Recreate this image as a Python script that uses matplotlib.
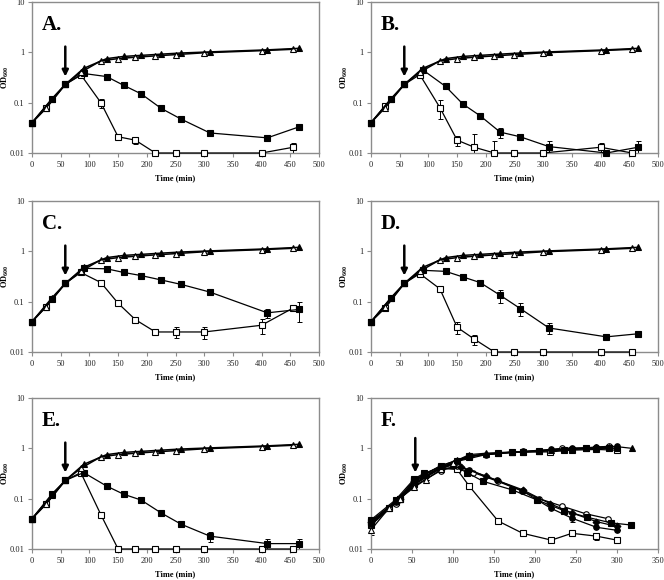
import matplotlib
matplotlib.use('Agg')
import matplotlib.pyplot as plt

plt.rcParams['font.family'] = ['Liberation Serif', 'DejaVu Serif']

# sampling times used in panels A-E
t_open = [0, 25, 58, 85, 120, 150, 180, 215, 250, 300, 400, 455]
t_fill = [0, 35, 58, 90, 130, 160, 190, 225, 260, 310, 410, 465]

# untreated cultures (triangles), same in A-E
tri_open = [0.04, 0.08, 0.23, 0.40, 0.68, 0.75, 0.80, 0.85, 0.90, 0.98, 1.08, 1.15]
tri_fill = [0.04, 0.12, 0.23, 0.48, 0.75, 0.83, 0.87, 0.92, 0.97, 1.02, 1.12, 1.20]

# panel A
a_sq_open = [0.04, 0.077, 0.23, 0.36, 0.10, 0.021, 0.018, 0.01, 0.01, 0.01, 0.01, 0.013]
a_sq_open_err = [0, 0, 0, 0, 0.02, 0, 0.003, 0, 0, 0, 0, 0.003]
a_sq_fill = [0.04, 0.12, 0.23, 0.38, 0.33, 0.22, 0.15, 0.077, 0.047, 0.025, 0.020, 0.033]
a_sq_fill_err = [0, 0, 0, 0, 0, 0, 0, 0, 0.004, 0, 0, 0]

# panel B
b_sq_open = [0.04, 0.085, 0.23, 0.36, 0.08, 0.018, 0.013, 0.01, 0.01, 0.01, 0.013, 0.01]
b_sq_open_err = [0, 0, 0, 0, 0.032, 0.004, 0.011, 0.007, 0, 0, 0.003, 0]
b_sq_fill = [0.04, 0.12, 0.23, 0.45, 0.21, 0.094, 0.055, 0.026, 0.021, 0.0134, 0.01, 0.013]
b_sq_fill_err = [0, 0, 0, 0, 0, 0, 0, 0.006, 0, 0.004, 0, 0.004]

# panel C
c_sq_open = [0.04, 0.08, 0.23, 0.38, 0.24, 0.093, 0.044, 0.025, 0.025, 0.025, 0.034, 0.075]
c_sq_open_err = [0, 0, 0, 0, 0, 0, 0, 0, 0.006, 0.007, 0.011, 0]
c_sq_fill = [0.04, 0.115, 0.23, 0.46, 0.45, 0.38, 0.33, 0.27, 0.22, 0.155, 0.06, 0.07]
c_sq_fill_err = [0, 0, 0, 0, 0, 0, 0, 0, 0, 0, 0.013, 0.03]

# panel D
d_sq_open = [0.04, 0.075, 0.23, 0.36, 0.18, 0.031, 0.018, 0.01, 0.01, 0.01, 0.01, 0.01]
d_sq_open_err = [0, 0, 0, 0, 0, 0.008, 0.004, 0, 0, 0, 0, 0]
d_sq_fill = [0.04, 0.12, 0.23, 0.42, 0.40, 0.31, 0.24, 0.134, 0.073, 0.030, 0.020, 0.023]
d_sq_fill_err = [0, 0, 0, 0, 0, 0, 0, 0.04, 0.02, 0.007, 0, 0]

# panel E
e_sq_open = [0.04, 0.078, 0.23, 0.33, 0.048, 0.01, 0.01, 0.01, 0.01, 0.01, 0.01, 0.01]
e_sq_open_err = [0] * 12
e_sq_fill = [0.04, 0.125, 0.23, 0.33, 0.178, 0.122, 0.094, 0.052, 0.031, 0.018, 0.0128, 0.0128]
e_sq_fill_err = [0, 0, 0, 0, 0, 0, 0, 0, 0, 0.004, 0.003, 0.003]

# panel F, growing cultures
f_t_tri_fill = [0, 30, 53, 65, 85, 105, 120, 140, 155, 172, 185, 205, 220, 245, 262, 275, 290, 300, 318]
f_tri_fill = [0.035, 0.09, 0.23, 0.30, 0.45, 0.58, 0.75, 0.80, 0.82, 0.85, 0.86, 0.87, 0.92, 0.98, 1.0, 1.05, 1.05, 1.08, 1.0]
f_t_tri_open = [0, 22, 35, 53, 67, 85, 100, 120, 140, 172, 205, 245, 275, 300]
f_tri_open = [0.024, 0.065, 0.10, 0.17, 0.24, 0.38, 0.50, 0.70, 0.78, 0.83, 0.88, 0.95, 1.0, 1.0]
f_tri_open_err = [0.005, 0, 0, 0, 0, 0, 0, 0, 0, 0, 0, 0, 0, 0]
f_t_gsq_open = [0, 30, 53, 85, 105, 120, 155, 185, 218, 245, 275, 300]
f_gsq_open = [0.03, 0.085, 0.20, 0.42, 0.55, 0.68, 0.80, 0.84, 0.85, 0.92, 0.95, 0.92]
f_t_gcirc_open = [0, 30, 53, 85, 105, 140, 172, 205, 233, 262, 290]
f_gcirc_open = [0.03, 0.08, 0.19, 0.40, 0.55, 0.75, 0.83, 0.90, 1.0, 1.02, 1.10]
f_t_gcirc_fill = [0, 30, 53, 85, 120, 155, 185, 220, 245, 275, 300]
f_gcirc_fill = [0.032, 0.085, 0.20, 0.42, 0.70, 0.80, 0.87, 0.95, 1.0, 1.05, 1.10]
f_t_gsq_fill = [0, 35, 53, 85, 120, 172, 205, 235, 262, 290]
f_gsq_fill = [0.035, 0.10, 0.24, 0.45, 0.70, 0.84, 0.88, 0.93, 1.0, 1.02]

# panel F, lysing cultures
f_t_sq_open = [0, 22, 35, 53, 65, 85, 105, 120, 155, 185, 220, 245, 275, 300]
f_sq_open = [0.035, 0.065, 0.10, 0.22, 0.30, 0.40, 0.38, 0.176, 0.036, 0.0205, 0.015, 0.0205, 0.018, 0.015]
f_sq_open_err = [0, 0, 0, 0, 0, 0, 0, 0, 0.005, 0, 0, 0, 0.003, 0]
f_t_sq_fill = [0, 30, 53, 65, 85, 100, 117, 137, 172, 202, 235, 263, 293, 317]
f_sq_fill = [0.038, 0.095, 0.25, 0.32, 0.42, 0.46, 0.33, 0.22, 0.15, 0.095, 0.058, 0.043, 0.033, 0.030]
f_t_circ_fill = [0, 30, 53, 67, 85, 100, 119, 154, 184, 219, 245, 275, 300]
f_circ_fill = [0.033, 0.09, 0.20, 0.28, 0.40, 0.48, 0.377, 0.23, 0.145, 0.065, 0.041, 0.027, 0.0235]
f_circ_fill_err = [0, 0, 0, 0, 0, 0, 0, 0, 0, 0, 0.006, 0, 0]
f_t_circ_open = [0, 30, 53, 85, 105, 125, 155, 185, 205, 233, 262, 289]
f_circ_open = [0.03, 0.085, 0.18, 0.36, 0.45, 0.33, 0.22, 0.14, 0.10, 0.071, 0.05, 0.040]
f_t_diam = [0, 35, 53, 85, 110, 140, 185, 218, 245, 275, 300]
f_diam = [0.035, 0.10, 0.22, 0.40, 0.42, 0.28, 0.15, 0.08, 0.052, 0.035, 0.028]

ticks_y = [0.01, 0.1, 1, 10]
ticklabels_y = ['0.01', '0.1', '1', '10']

fig = plt.figure(figsize=(6.64, 5.80), dpi=100)

w, h = 287 / 664, 151 / 580
positions = {
    'A': [32 / 664, 1 - 153 / 580, w, h],
    'B': [371 / 664, 1 - 153 / 580, w, h],
    'C': [32 / 664, 1 - 352 / 580, w, h],
    'D': [371 / 664, 1 - 352 / 580, w, h],
    'E': [32 / 664, 1 - 549 / 580, w, h],
    'F': [371 / 664, 1 - 549 / 580, w, h],
}


def series(ax, t, v, marker, filled, err=None, ms=4.5, lw=0.9):
    fc = 'black' if filled else 'white'
    if err is not None:
        ax.errorbar(t, v, yerr=err, fmt='none', ecolor='black', elinewidth=0.7,
                    capsize=1.8, capthick=0.7, zorder=2)
    ax.plot(t, v, color='black', lw=lw, marker=marker, ms=ms, mfc=fc,
            mec='black', mew=0.8, clip_on=False, zorder=3)


def setup(ax, letter, xmax, arrow_x, arrow_top, arrow_tip):
    ax.set_yscale('log')
    ax.set_ylim(0.01, 10)
    ax.set_xlim(0, xmax)
    ax.set_xticks(range(0, xmax + 1, 50))
    ax.set_yticks(ticks_y)
    ax.set_yticklabels(ticklabels_y)
    ax.minorticks_off()
    for s in ax.spines.values():
        s.set_color('#8c8c8c')
        s.set_linewidth(1.0)
    ax.tick_params(axis='both', direction='out', length=3, width=0.8, color='#8c8c8c',
                   labelsize=6, labelcolor='#222222', pad=2.5)
    ax.set_xlabel('Time (min)', fontsize=6, fontweight='bold', labelpad=4)
    ax.set_ylabel('OD$_{\\mathregular{600}}$', fontsize=6, fontweight='bold')
    ax.yaxis.set_label_coords(-0.072, 0.5)
    ax.text(0.035, 0.85, letter + '.', transform=ax.transAxes, fontsize=15,
            fontweight='bold', ha='left', va='center')
    ax.annotate('', xy=(arrow_x, arrow_tip), xytext=(arrow_x, arrow_top),
                arrowprops=dict(arrowstyle='-|>', color='black', lw=1.8,
                                mutation_scale=9, shrinkA=0, shrinkB=0))


panels = [
    ('A', a_sq_open, a_sq_open_err, a_sq_fill, a_sq_fill_err),
    ('B', b_sq_open, b_sq_open_err, b_sq_fill, b_sq_fill_err),
    ('C', c_sq_open, c_sq_open_err, c_sq_fill, c_sq_fill_err),
    ('D', d_sq_open, d_sq_open_err, d_sq_fill, d_sq_fill_err),
    ('E', e_sq_open, e_sq_open_err, e_sq_fill, e_sq_fill_err),
]

for letter, sqo, sqo_e, sqf, sqf_e in panels:
    ax = fig.add_axes(positions[letter])
    series(ax, t_open, sqo, 's', False, sqo_e)
    series(ax, t_fill, sqf, 's', True, sqf_e)
    series(ax, t_open, tri_open, '^', False, lw=1.1)
    series(ax, t_fill, tri_fill, '^', True, lw=1.1)
    setup(ax, letter, 500, 58, 1.3, 0.33)

ax = fig.add_axes(positions['F'])
series(ax, f_t_sq_open, f_sq_open, 's', False, f_sq_open_err)
series(ax, f_t_circ_open, f_circ_open, 'o', False, ms=4)
series(ax, f_t_diam, f_diam, 'D', True, ms=3.5)
series(ax, f_t_circ_fill, f_circ_fill, 'o', True, f_circ_fill_err, ms=4)
series(ax, f_t_sq_fill, f_sq_fill, 's', True)
series(ax, f_t_gsq_open, f_gsq_open, 's', False)
series(ax, f_t_gcirc_open, f_gcirc_open, 'o', False, ms=4)
series(ax, f_t_gcirc_fill, f_gcirc_fill, 'o', True, ms=4)
series(ax, f_t_gsq_fill, f_gsq_fill, 's', True)
series(ax, f_t_tri_open, f_tri_open, '^', False, f_tri_open_err)
series(ax, f_t_tri_fill, f_tri_fill, '^', True)
setup(ax, 'F', 350, 54, 1.6, 0.33)

fig.savefig('out.png', dpi=100)
